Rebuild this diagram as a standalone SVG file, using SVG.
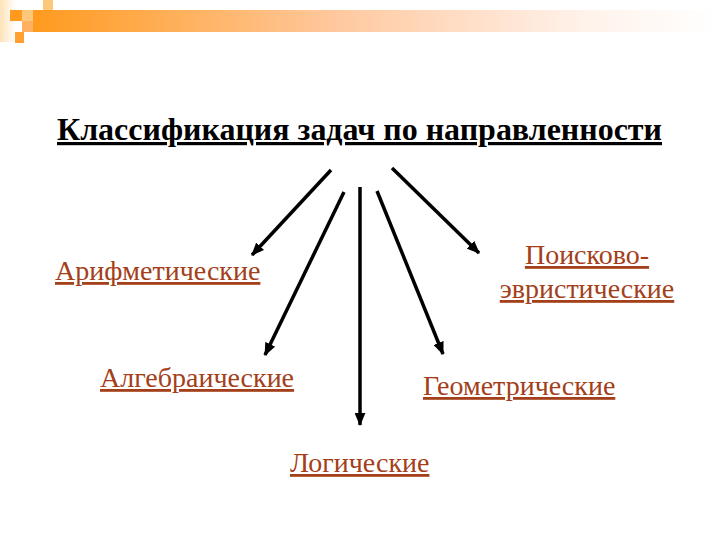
<svg xmlns="http://www.w3.org/2000/svg" width="720" height="540" viewBox="0 0 720 540">
<defs>
<linearGradient id="bar" x1="0" y1="0" x2="1" y2="0">
<stop offset="0" stop-color="#FF9A1E"/>
<stop offset="0.45" stop-color="#FFC9A0"/>
<stop offset="0.8" stop-color="#FFF2EA"/>
<stop offset="1" stop-color="#FFFFFF"/>
</linearGradient>
<linearGradient id="strip" x1="0" y1="0" x2="1" y2="0">
<stop offset="0" stop-color="#FFE2B8"/>
<stop offset="1" stop-color="#FFFFFF"/>
</linearGradient>
<marker id="ah" viewBox="0 0 12 10" refX="11" refY="5" markerWidth="13" markerHeight="11" markerUnits="userSpaceOnUse" orient="auto">
<path d="M0,0 L12,5 L0,10 Z" fill="#000"/>
</marker>
<style>
.lbl{font-family:"Liberation Serif","Times New Roman",serif;font-size:28px;fill:#A3401A;text-decoration:underline;}
.title{font-family:"Liberation Serif","Times New Roman",serif;font-size:32px;font-weight:bold;fill:#000;text-decoration:underline;}
.arr{stroke:#000;stroke-width:3.5;fill:none;marker-end:url(#ah);}
</style>
</defs>
<g id="header">
<rect x="0" y="0" width="16" height="42" fill="url(#strip)"/>
<rect x="32" y="10" width="688" height="22" fill="url(#bar)"/>
<rect x="10" y="10" width="12" height="11" fill="#FF9A1E"/>
<rect x="22" y="10" width="11" height="11" fill="#FFC77A"/>
<rect x="22" y="21" width="11" height="11" fill="#FFB060"/>
<rect x="43" y="0" width="10" height="10" fill="#FFC77A"/>
<rect x="15" y="32" width="9" height="11" fill="#FFA030"/>
</g>
<g id="title">
<text class="title" x="57" y="140" textLength="605" lengthAdjust="spacingAndGlyphs">Классификация задач по направленности</text>
</g>
<g id="connectors">
<line class="arr" x1="331" y1="170" x2="252" y2="255"/>
<line class="arr" x1="344" y1="192" x2="265" y2="355"/>
<line class="arr" x1="360" y1="187" x2="360" y2="425"/>
<line class="arr" x1="377" y1="191" x2="443" y2="354"/>
<line class="arr" x1="392" y1="168" x2="479" y2="253"/>
</g>
<g id="n-arith"><text class="lbl" x="55" y="280">Арифметические</text></g>
<g id="n-search"><text class="lbl" x="587" y="264" text-anchor="middle">Поисково-</text><text class="lbl" x="587" y="298" text-anchor="middle">эвристические</text></g>
<g id="n-alg"><text class="lbl" x="100" y="387">Алгебраические</text></g>
<g id="n-geom"><text class="lbl" x="423" y="395">Геометрические</text></g>
<g id="n-logic"><text class="lbl" x="290" y="472">Логические</text></g>
</svg>
